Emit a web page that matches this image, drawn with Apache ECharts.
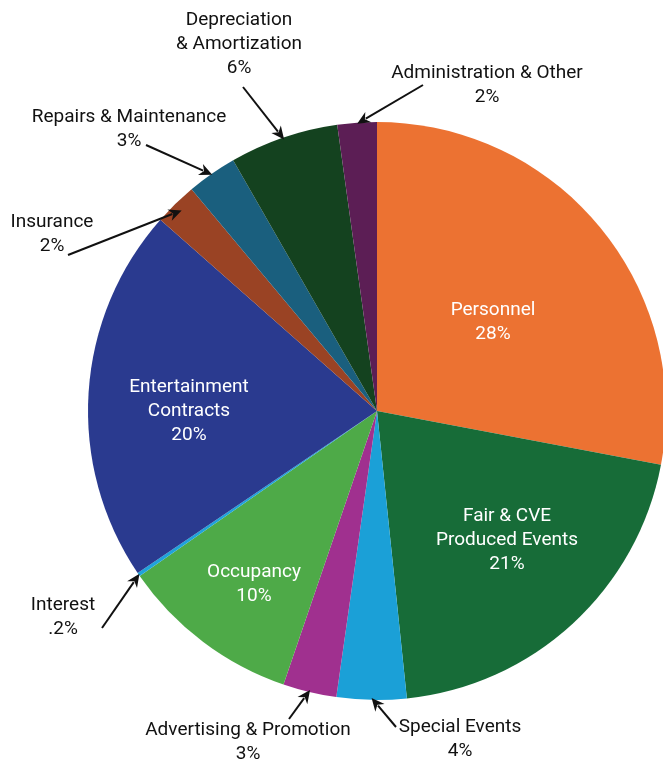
<!DOCTYPE html>
<html>
<head>
<meta charset="utf-8">
<style>
  html, body { margin: 0; padding: 0; background: #fff; }
  #main { width: 663px; height: 763px; }
</style>
<script src="https://cdn.jsdelivr.net/npm/echarts@6/dist/echarts.min.js"></script>
</head>
<body>
<div id="main"></div>
<script>
// slice data, clockwise from 12 o'clock
const names = [
  "Personnel",
  "Fair & CVE\nProduced Events",
  "Special Events",
  "Advertising & Promotion",
  "Occupancy",
  "Interest",
  "Entertainment\nContracts",
  "Insurance",
  "Repairs & Maintenance",
  "Depreciation\n& Amortization",
  "Administration & Other"
];
const values = [28.0, 20.4, 3.9, 3.0, 10.1, 0.2, 21.0, 2.4, 2.8, 6.1, 2.2];
const pctLabels = ["28%", "21%", "4%", "3%", "10%", ".2%", "20%", "2%", "3%", "6%", "2%"];
const colors = ["#EC7232", "#176C38", "#1BA0D7", "#A0308F", "#4EAA48", "#1FA3DB",
  "#2A3A8F", "#9A4324", "#1A5F7E", "#14421F", "#5C1E55"];
const inside = [true, true, false, false, true, false, true, false, false, false, false];

// label centres and arrow tails (layout only)
const labelPos = [
  [493, 322], [507, 540], [460, 739], [248, 742], [254, 584], [63, 617],
  [189, 411], [52, 234], [129, 129], [239, 44], [487, 85]
];
const arrowTail = [
  null, null, [396, 727], [289, 719], null, [102, 628],
  null, [68, 255], [146, 145], [243, 87], [423, 85]
];
const tipInset = [0, 0, 2, 2, 0, 1, 0, 9, 1, 2, 1];

const chartDom = document.getElementById("main");
const myChart = echarts.init(chartDom);

const option = {
  animation: false,
  backgroundColor: "#fff",
  series: [
    {
      type: "pie",
      center: [377, 411],
      radius: 289,
      startAngle: 90,
      clockwise: true,
      avoidLabelOverlap: false,
      emphasis: { disabled: true },
      itemStyle: { borderWidth: 0 },
      label: {
        show: true,
        position: "outside",
        fontFamily: "Roboto, 'Noto Sans', sans-serif",
        fontSize: 19,
        lineHeight: 24,
        align: "center",
        formatter: (p) => p.name + "\n" + pctLabels[p.dataIndex]
      },
      labelLine: { show: false },
      labelLayout: (p) => ({
        x: labelPos[p.dataIndex][0],
        y: labelPos[p.dataIndex][1],
        align: "center",
        verticalAlign: "middle",
        hideOverlap: false
      }),
      data: names.map((n, i) => ({
        name: n,
        value: values[i],
        itemStyle: { color: colors[i] },
        label: { color: inside[i] ? "#ffffff" : "#111111" }
      }))
    }
  ]
};

myChart.setOption(option);

// arrows from the labels to the middle of each small slice, using the pie layout
const pieData = myChart.getModel().getSeriesByIndex(0).getData();
const graphics = [];
arrowTail.forEach((tail, i) => {
  if (!tail) return;
  const lay = pieData.getItemLayout(i);
  const mid = (lay.startAngle + lay.endAngle) / 2;
  const r = lay.r - tipInset[i];
  const tip = [lay.cx + r * Math.cos(mid), lay.cy + r * Math.sin(mid)];
  const dx = tip[0] - tail[0];
  const dy = tip[1] - tail[1];
  const len = Math.sqrt(dx * dx + dy * dy);
  const ux = dx / len, uy = dy / len;
  const headLen = 13, headW = 6;
  const base = [tip[0] - ux * headLen, tip[1] - uy * headLen];
  graphics.push({
    type: "line",
    silent: true,
    shape: { x1: tail[0], y1: tail[1], x2: base[0] + ux * 3, y2: base[1] + uy * 3 },
    style: { stroke: "#111", lineWidth: 2 },
    z: 10
  });
  graphics.push({
    type: "polygon",
    silent: true,
    shape: {
      points: [
        tip,
        [base[0] - uy * headW, base[1] + ux * headW],
        [tip[0] - ux * (headLen - 4), tip[1] - uy * (headLen - 4)],
        [base[0] + uy * headW, base[1] - ux * headW]
      ]
    },
    style: { fill: "#111" },
    z: 10
  });
});
myChart.setOption({ graphic: graphics });
</script>
</body>
</html>
